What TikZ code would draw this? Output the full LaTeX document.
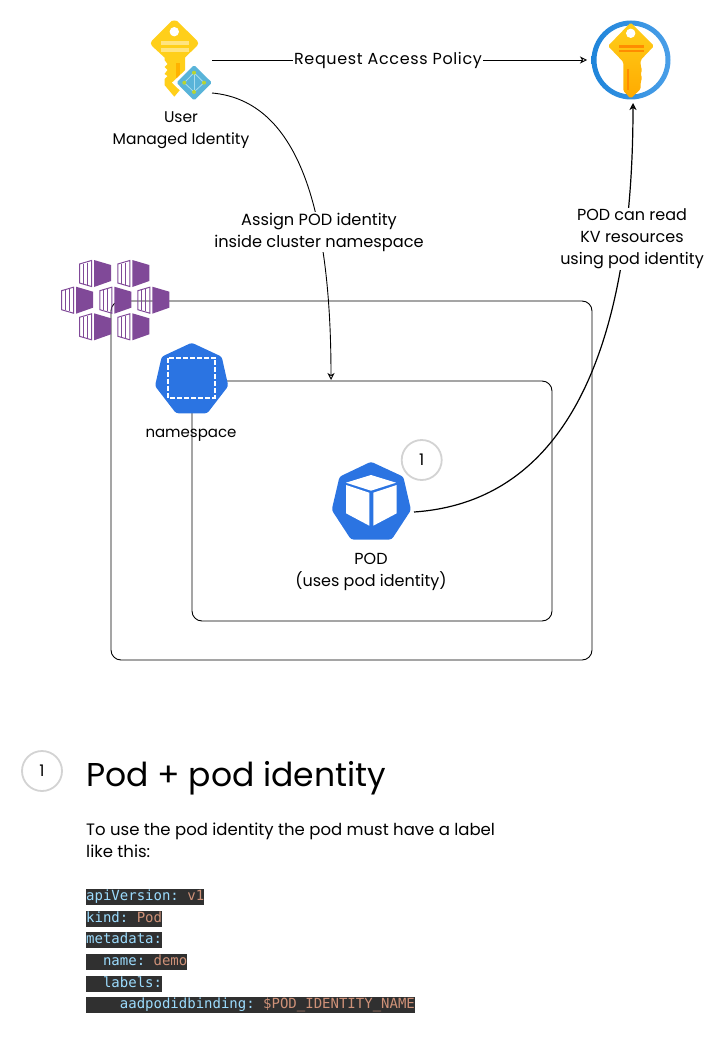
\documentclass[tikz,border=0pt]{standalone}
\usepackage{fontspec}
\setmainfont{Poppins}
\setmonofont{DejaVu Sans Mono}
\usetikzlibrary{arrows.meta}
\definecolor{kblue}{HTML}{2B74E2}
\definecolor{kpurple}{HTML}{804998}
\definecolor{kyellow}{HTML}{FFCF1A}
\definecolor{kamber}{HTML}{FFAA00}
\definecolor{kgrey}{HTML}{D3D3D3}
\definecolor{codebg}{HTML}{303030}
\definecolor{codekey}{HTML}{9CDCFE}
\definecolor{codeval}{HTML}{CE9178}
\definecolor{kvring}{HTML}{1E84DA}
\definecolor{kvringb}{HTML}{4A9FE8}
\definecolor{azure}{HTML}{59B4D9}
\definecolor{azureline}{HTML}{A6DCF0}
\definecolor{lime}{HTML}{B8D432}
\tikzset{
  conn/.style={draw=black,line width=0.9pt,-{Stealth[open,length=7pt,width=7pt,inset=2pt]}},
  frame/.style={draw=black,line width=0.9pt,rounded corners=10pt},
  lbl/.style={align=center,font=\fontsize{16}{22}\selectfont,inner sep=1pt,text=black},
  lblw/.style={lbl,fill=white},
  icon/.style={inner sep=0pt,outer sep=0pt},
  marker/.style={circle,draw=kgrey,line width=1.8pt,minimum size=40pt,inner sep=0pt,font=\fontsize{16}{18}\selectfont},
  codeline/.style={anchor=west,fill=codebg,inner xsep=0pt,inner ysep=0pt,text height=11.5pt,text depth=4.5pt,font=\fontsize{14}{16}\ttfamily},
  hept/.style={fill=kblue,rounded corners=2.5pt},
  cube/.pic={
    \draw[kpurple,line width=1pt,fill=none] (0.5,4)--(12.5,0.5)--(12.5,26.5)--(0.5,23)--cycle;
    \draw[kpurple,line width=1pt] (4.5,3.5)--(4.5,23.5) (8.5,2.5)--(8.5,24.5);
    \fill[kpurple] (15,0)--(32,5)--(32,21)--(15,27)--cycle;
  }
}
\newcommand{\codekv}[2]{\textcolor{codekey}{#1}\textcolor{codeval}{#2}}
\begin{document}
\begin{tikzpicture}[x=1pt,y=-1pt]
\useasboundingbox (0,0) rectangle (722,1051);

% frames
\draw[frame] (111,301) rectangle (592,660);
\draw[frame] (192,381) rectangle (552,621);

% icon anchors
\node[icon,minimum width=88pt,minimum height=88pt,circle] (kv) at (631,60) {};
\node[icon,minimum width=86pt,minimum height=78pt] (pod) at (371,512) {};
\coordinate (uidA) at (212,60);
\coordinate (uidB) at (212,93);
\coordinate (nsTop) at (331,380);
\coordinate (kvS) at (633,103);

% connectors
\draw[conn] (uidA) -- (kv.west);
\draw[conn] (uidB) .. controls (290,100) and (331,190) .. (nsTop);
\draw[conn,line width=1.2pt] (pod.east) .. controls (590,500) and (633,300) .. (kvS);

% connector labels
\node[lblw,font=\fontsize{16}{22}\selectfont\addfontfeature{LetterSpace=4}] (reqlbl) at (388,60) {Request Access Policy};
\node[lblw,font=\fontsize{16.2}{22}\selectfont] (assignlbl) at (319,232) {Assign POD identity\\inside cluster namespace};
\node[lblw] (readlbl) at (632,239) {POD can read\\KV resources\\using pod identity};

% user managed identity icon
\begin{scope}
  \fill[kyellow] (174.3,20.5) .. controls (175.5,20) and (176.5,20.5) .. (177,21)
    -- (197,40.5) .. controls (198.5,42) and (198.5,44.5) .. (197,46)
    -- (185,57.5) -- (185,84) -- (174.3,96.7) -- (164.5,85) -- (164.5,79) -- (167.5,76) -- (164.5,74)
    -- (167.5,70) -- (164.5,67) -- (167.5,64) -- (164.5,60) -- (164.5,57.5)
    -- (152,46) .. controls (150.5,44.5) and (150.5,42) .. (152,40.5)
    -- (171.5,21) .. controls (172.5,20.5) and (173.5,20) .. (174.3,20.5) -- cycle;
  \fill[white] (174.3,31.7) circle (4.7);
  \fill[white!45!kyellow] (161,41) rectangle (189,45);
  \fill[white!45!kyellow] (161,47.7) rectangle (189,51.7);
  \fill[orange!60!yellow] (176,63) rectangle (179.5,80);
  \fill[white] (194,62) -- (216,82.7) -- (194,104) -- (172,82.7) -- cycle;
  \fill[rounded corners=1.5pt,azure] (194,65) -- (212,82.7) -- (194,100.5) -- (176.5,82.7) -- cycle;
  \draw[azureline,line width=0.8pt] (194,72.7) -- (204,82.7) -- (194,92) -- (184.3,82.7) -- cycle;
  \draw[azureline,line width=0.8pt] (194,72.7) -- (194,92);
  \foreach \p in {(194,72.7),(204,82.7),(194,92),(184.3,82.7)} \fill[lime] \p circle (2);
\end{scope}
\node[lbl,font=\fontsize{15.5}{22}\selectfont] (uidlbl) at (181,130) {User\\Managed Identity};

% key vault icon
\begin{scope}
  \shade[left color=kvring,right color=kvringb,even odd rule] (631,60) circle (39.5) (631,60) circle (34.5);
  \shade[top color=kyellow,middle color=kyellow,bottom color=kamber,rounded corners=1.5pt]
    (630.7,22.5) -- (654,46) -- (640.7,60) -- (640.7,66) -- (642,70) -- (640.7,74) -- (642,78) -- (640.7,82) -- (640.7,89) -- (630.7,98.5) -- (623.3,91) -- (623.3,62) -- (608,46) -- cycle;
  \fill[white] (630.7,33.3) circle (4.7);
  \fill[orange!90!yellow] (619,45) rectangle (643.5,48);
  \fill[orange!90!yellow] (619,49.7) rectangle (643.5,52.5);
  \fill[orange!90!yellow] (626.7,69) rectangle (628.7,90);
\end{scope}

% kubernetes service icon
\path (79,260) pic {cube} (117.3,260) pic {cube}
      (61,286.7) pic {cube} (99.3,286.7) pic {cube} (137.3,286.7) pic {cube}
      (79,313.3) pic {cube} (117.3,313.3) pic {cube};

% namespace icon
\fill[hept] (191.7,342.7) -- (221.7,356.7) -- (228.3,386) -- (207.3,413.3) -- (176,413.3) -- (155,386) -- (161.7,356.7) -- cycle;
\draw[white,line width=2.2pt,dash pattern=on 5pt off 2pt] (168.3,357.7) rectangle (215,397.7);
\node[lbl,font=\fontsize{15}{22}\selectfont] (nslbl) at (191,435) {namespace};

% pod icon
\fill[hept] (371,461.7) -- (403.3,476.7) -- (411,510) -- (391.7,539.5) -- (351,539.5) -- (331.7,510) -- (339.5,476.7) -- cycle;
\fill[white] (371,475) -- (396,482.7) -- (371,490.7) -- (346,482.7) -- cycle;
\fill[white] (346,485) -- (369.3,492.7) -- (369.3,525.7) -- (346,513.3) -- cycle;
\fill[white] (373.3,492.7) -- (396.7,485) -- (396.7,513.3) -- (373.3,525.7) -- cycle;
\node[lbl] (podlbl) at (371,572) {POD\\(uses pod identity)};

% numbered markers
\node[marker] (m1) at (421.7,460) {1};
\node[marker] (m2) at (42,771) {1};

% notes
\node[anchor=west,inner sep=0pt,font=\fontsize{33}{38}\selectfont] (title) at (86,778) {Pod + pod identity};
\node[anchor=north west,inner sep=0pt,font=\fontsize{16.5}{21.5}\selectfont,align=left] (para) at (86,823) {To use the pod identity the pod must have a label\\like this:};

% code
\node[codeline] (c1) at (86,897) {\codekv{apiVersion:}{~v1}};
\node[codeline] (c2) at (86,919) {\codekv{kind:}{~Pod}};
\node[codeline] (c3) at (86,940.3) {\codekv{metadata:}{}};
\node[codeline] (c4) at (86,962) {\codekv{~~name:}{~demo}};
\node[codeline] (c5) at (86,983.7) {\codekv{~~labels:}{}};
\node[codeline] (c6) at (86,1005) {\codekv{~~~~aadpodidbinding:}{~\$POD\_IDENTITY\_NAME}};
\end{tikzpicture}
\end{document}
